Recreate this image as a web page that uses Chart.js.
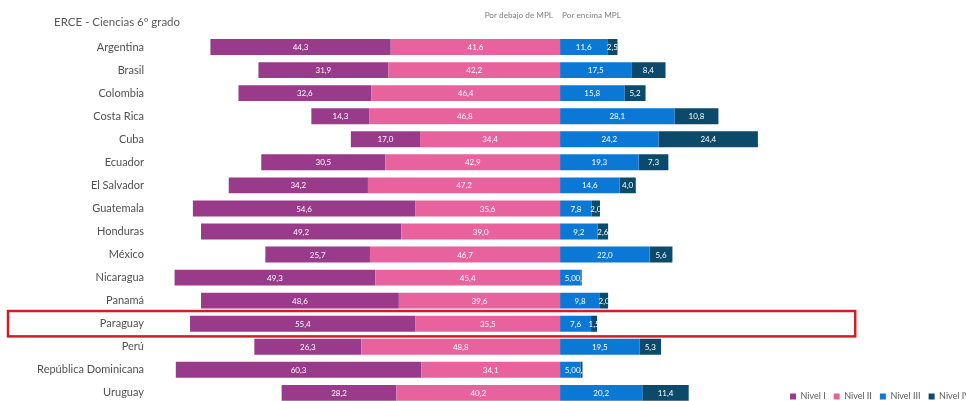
<!DOCTYPE html>
<html><head><meta charset="utf-8">
<script src="https://cdn.jsdelivr.net/npm/chart.js@4/dist/chart.umd.min.js"></script>
<style>html,body{margin:0;padding:0;background:#fff;overflow:hidden}
#wrap{position:relative;width:966px;height:420px}</style>
</head><body><div id="wrap"><canvas id="c"></canvas></div>
<script>
const categories = ['Argentina','Brasil','Colombia','Costa Rica','Cuba','Ecuador','El Salvador','Guatemala','Honduras','México','Nicaragua','Panamá','Paraguay','Perú','República Dominicana','Uruguay'];
const nivelI   = [44.3,31.9,32.6,14.3,17.0,30.5,34.2,54.6,49.2,25.7,49.3,48.6,55.4,26.3,60.3,28.2];
const nivelII  = [41.6,42.2,46.4,46.8,34.4,42.9,47.2,35.6,39.0,46.7,45.4,39.6,35.5,48.8,34.1,40.2];
const nivelIII = [11.6,17.5,15.8,28.1,24.2,19.3,14.6,7.8,9.2,22.0,5.0,9.8,7.6,19.5,5.0,20.2];
const nivelIV  = [2.5,8.4,5.2,10.8,24.4,7.3,4.0,2.0,2.6,5.6,0.3,2.0,1.5,5.3,0.5,11.4];
const seriesNames = ['Nivel I','Nivel II','Nivel III','Nivel IV'];
const chartTitle = 'ERCE - Ciencias 6º grado';
const sideLabels = ['Por debajo de MPL','Por encima MPL'];
const highlighted = 'Paraguay';

const FONT = 'Lato, "Open Sans", sans-serif';
const colors = {'Nivel I':'#993A8B','Nivel II':'#E8629E','Nivel III':'#0B78D6','Nivel IV':'#0B4A6B'};

function ds(name, data){
  return {label:name, data:data, backgroundColor:colors[name], borderWidth:0,
    barPercentage:0.69, categoryPercentage:1, stack:'s'};
}

const labelPlugin = {
  id:'valueLabels',
  afterDatasetsDraw(chart){
    const ctx = chart.ctx;
    ctx.save();
    ctx.font = '8px ' + FONT;
    ctx.fillStyle = '#ffffff';
    ctx.textAlign = 'center';
    ctx.textBaseline = 'middle';
    chart.data.datasets.forEach((d, di) => {
      const meta = chart.getDatasetMeta(di);
      meta.data.forEach((el, i) => {
        const v = d.data[i];
        const l = Math.min(el.x, el.base), r = Math.max(el.x, el.base);
        ctx.save();
        ctx.beginPath();
        ctx.rect(0, el.y - el.height/2, r, el.height);
        ctx.clip();
        ctx.fillText(Math.abs(v).toFixed(1).replace('.', ','), (l + r)/2, el.y + 0.5);
        ctx.restore();
      });
    });
    ctx.restore();
  }
};

const decorPlugin = {
  id:'decor',
  beforeDraw(chart){
    const lg = chart.legend;
    if (lg) {
      const h = lg.height;
      lg.left = 782; lg.right = 3000; lg.top = 384; lg.bottom = 384 + h;
    }
  },
  afterDraw(chart){
    const ctx = chart.ctx;
    const xs = chart.scales.x, ys = chart.scales.y;
    const x0 = xs.getPixelForValue(0);
    ctx.save();
    ctx.fillStyle = '#595959';
    ctx.font = '11.5px ' + FONT;
    ctx.textAlign = 'left'; ctx.textBaseline = 'middle';
    ctx.fillText(chartTitle, 54, 22);
    ctx.font = '8.2px ' + FONT;
    ctx.fillStyle = '#7F7F7F';
    ctx.textAlign = 'right';
    ctx.fillText(sideLabels[0], x0 - 7, 15);
    ctx.textAlign = 'left';
    ctx.fillText(sideLabels[1], x0 + 2, 15);
    // highlight box
    const idx = categories.indexOf(highlighted);
    const yc = ys.getPixelForValue(idx);
    const step = (ys.bottom - ys.top) / categories.length;
    ctx.strokeStyle = '#CC1F26';
    ctx.lineWidth = 2.5;
    const top = yc - step*0.55, bot = yc + step*0.55;
    ctx.strokeRect(8, top, xs.getPixelForValue(72.5) - 8, bot - top);
    ctx.restore();
  }
};

new Chart(document.getElementById('c'), {
  type:'bar',
  data:{
    labels: categories,
    datasets:[
      ds('Nivel II', nivelII.map(v => -v)),
      ds('Nivel I', nivelI.map(v => -v)),
      ds('Nivel III', nivelIII),
      ds('Nivel IV', nivelIV)
    ]
  },
  options:{
    indexAxis:'y',
    responsive:true,
    maintainAspectRatio:false,
    animation:false,
    layout:{padding:{top:8.5, right:7, bottom:0, left:0}},
    scales:{
      x:{
        type:'linear', stacked:true, min:-100, max:98,
        ticks:{display:false, stepSize:50},
        border:{display:false},
        grid:{drawTicks:false, lineWidth:1,
          color:(c) => (c.tick && c.tick.value === 0) ? '#000000' : 'rgba(0,0,0,0)'},
        afterFit(s){ s.height = 0; }
      },
      y:{
        type:'category', stacked:true,
        grid:{display:false, drawTicks:false},
        border:{display:false},
        ticks:{color:'#505050', font:{family:FONT, size:11}, padding:9},
        afterFit(s){ s.width = 153; }
      }
    },
    plugins:{
      title:{display:false},
      tooltip:{enabled:false},
      legend:{
        display:true, position:'top', align:'start',
        labels:{
          boxWidth:6, boxHeight:6, padding:8, color:'#595959',
          font:{family:FONT, size:9},
          sort:(a,b) => seriesNames.indexOf(a.text) - seriesNames.indexOf(b.text)
        }
      }
    }
  },
  plugins:[labelPlugin, decorPlugin]
});
</script>
</body></html>
